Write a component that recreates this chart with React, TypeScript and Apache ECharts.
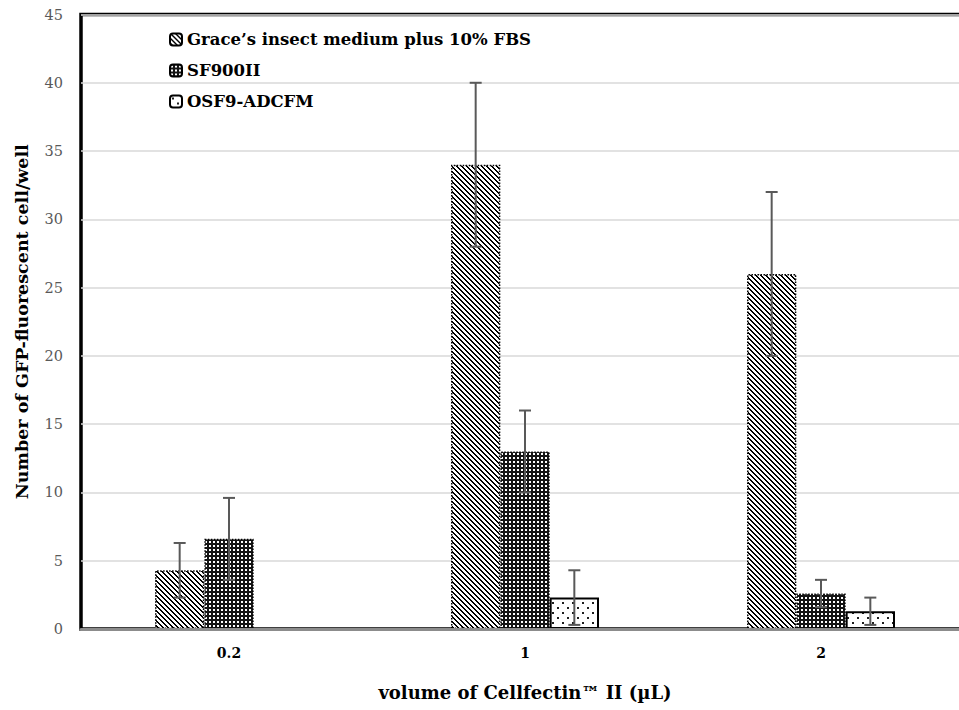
import React, { useEffect, useRef } from "react";
import * as echarts from "echarts";

const categories = ["0.2", "1", "2"];
const seriesNames = ["Grace’s insect medium plus 10% FBS", "SF900II", "OSF9-ADCFM"];
const graceValues = [4.3, 34, 26];
const sf900Values = [6.6, 13, 2.6];
const osf9Values = [0, 2.3, 1.3];
const graceErrors = [2, 6, 6];
const sf900Errors = [3, 3, 1];
const osf9Errors = [0, 2, 1];
const yTicks = { min: 0, max: 45, interval: 5 };

const FONT = "'DejaVu Serif', 'Liberation Serif', serif";

function makeTile(size: number, fill: (x: number, y: number) => boolean, fg: number[], bg: number[]) {
  const c = document.createElement("canvas");
  c.width = size;
  c.height = size;
  const ctx = c.getContext("2d")!;
  const img = ctx.createImageData(size, size);
  for (let y = 0; y < size; y++) {
    for (let x = 0; x < size; x++) {
      const i = (y * size + x) * 4;
      const col = fill(x, y) ? fg : bg;
      img.data[i] = col[0];
      img.data[i + 1] = col[1];
      img.data[i + 2] = col[2];
      img.data[i + 3] = 255;
    }
  }
  ctx.putImageData(img, 0, 0);
  return c;
}

export default function App() {
  const ref = useRef<HTMLDivElement>(null);
  useEffect(() => {
    if (!ref.current) return;
    const chart = echarts.init(ref.current, null, { renderer: "svg" });
    const black = [0, 0, 0];
    const white = [255, 255, 255];
    const diag = makeTile(5, (x, y) => ((x - y + 10) % 5) < 2, black, white);
    const grid = makeTile(4, (x, y) => !(x >= 1 && x <= 2 && y >= 1 && y <= 2), [20, 20, 20], white);
    const dots = makeTile(10, (x, y) => (x >= 2 && x <= 3 && y >= 2 && y <= 3) || (x >= 7 && x <= 8 && y >= 7 && y <= 8), [30, 30, 30], white);

    const allValues = [graceValues, sf900Values, osf9Values];
    const allErrors = [graceErrors, sf900Errors, osf9Errors];
    const errData: number[][] = [];
    allValues.forEach((vals, s) => {
      vals.forEach((v, i) => {
        if (v > 0) errData.push([i, v, allErrors[s][i], s]);
      });
    });

    const patterns = [diag, grid, dots];
    const borders = [
      { borderColor: "#000", borderWidth: 1.5, borderType: "dotted" },
      { borderColor: "#000", borderWidth: 1.5, borderType: "dotted" },
      { borderColor: "#000", borderWidth: 2, borderType: "solid" },
    ];

    const barSeries = allValues.map((vals, s) => ({
      name: seriesNames[s],
      type: "bar",
      barGap: "0%",
      barCategoryGap: "50%",
      data: vals.map((v) => (v === 0 ? "-" : v)),
      itemStyle: {
        color: { image: patterns[s], repeat: "repeat" },
        ...borders[s],
      },
      z: 2,
    }));

    chart.setOption({
      animation: false,
      backgroundColor: "#fff",
      grid: {
        left: 81,
        right: 6,
        top: 14.5,
        bottom: 81,
        show: true,
        borderColor: "#000",
        borderWidth: 3.5,
        backgroundColor: "transparent",
      },
      legend: {
        orient: "vertical",
        left: 164,
        top: 26,
        itemWidth: 12,
        itemHeight: 12,
        itemGap: 14,
        data: seriesNames,
        textStyle: { fontFamily: FONT, fontWeight: "bold", fontSize: 16.5, color: "#000" },
      },
      xAxis: {
        type: "category",
        data: categories,
        name: "volume of Cellfectin™ II (µL)",
        nameLocation: "middle",
        nameGap: 54,
        nameTextStyle: { fontFamily: FONT, fontWeight: "bold", fontSize: 18, color: "#000" },
        axisLine: { show: true, lineStyle: { color: "#8c8c8c", width: 3 } },
        axisTick: { show: false },
        axisLabel: { fontFamily: FONT, fontWeight: "bold", fontSize: 14, color: "#000", margin: 17 },
        z: 5,
      },
      yAxis: {
        type: "value",
        min: yTicks.min,
        max: yTicks.max,
        interval: yTicks.interval,
        name: "Number of GFP-fluorescent cell/well",
        nameLocation: "middle",
        nameGap: 50,
        nameTextStyle: { fontFamily: FONT, fontWeight: "bold", fontSize: 17.5, color: "#000" },
        axisLine: { show: false },
        axisTick: { show: false },
        axisLabel: { fontFamily: FONT, fontSize: 14.5, color: "#595959", margin: 18 },
        splitLine: { lineStyle: { color: "#d9d9d9", width: 1.5 } },
      },
      series: [
        ...barSeries,
        {
          type: "custom",
          name: "errors",
          data: errData,
          z: 10,
          renderItem: (params: any, api: any) => {
            const cat = api.value(0);
            const val = api.value(1);
            const err = api.value(2);
            const s = api.value(3);
            const band = api.size([1, 0])[0];
            const bw = (band * 0.5) / 3;
            const center = api.coord([cat, val]);
            const x = center[0] + (s - 1) * bw;
            const top = api.coord([cat, val + err])[1];
            const bot = api.coord([cat, Math.max(val - err, 0)])[1];
            const half = 6;
            const st = { stroke: "#595959", lineWidth: 2 };
            return {
              type: "group",
              children: [
                { type: "line", shape: { x1: x, y1: top, x2: x, y2: bot }, style: st },
                { type: "line", shape: { x1: x - half, y1: top, x2: x + half, y2: top }, style: st },
                { type: "line", shape: { x1: x - half, y1: bot, x2: x + half, y2: bot }, style: st },
              ],
            };
          },
        },
      ],
    });
    return () => chart.dispose();
  }, []);
  return (
    <div style={{ position: "absolute", left: 0, top: 0, width: 959, height: 710, overflow: "hidden" }}>
      <div ref={ref} style={{ width: 975, height: 710 }} />
    </div>
  );
}
